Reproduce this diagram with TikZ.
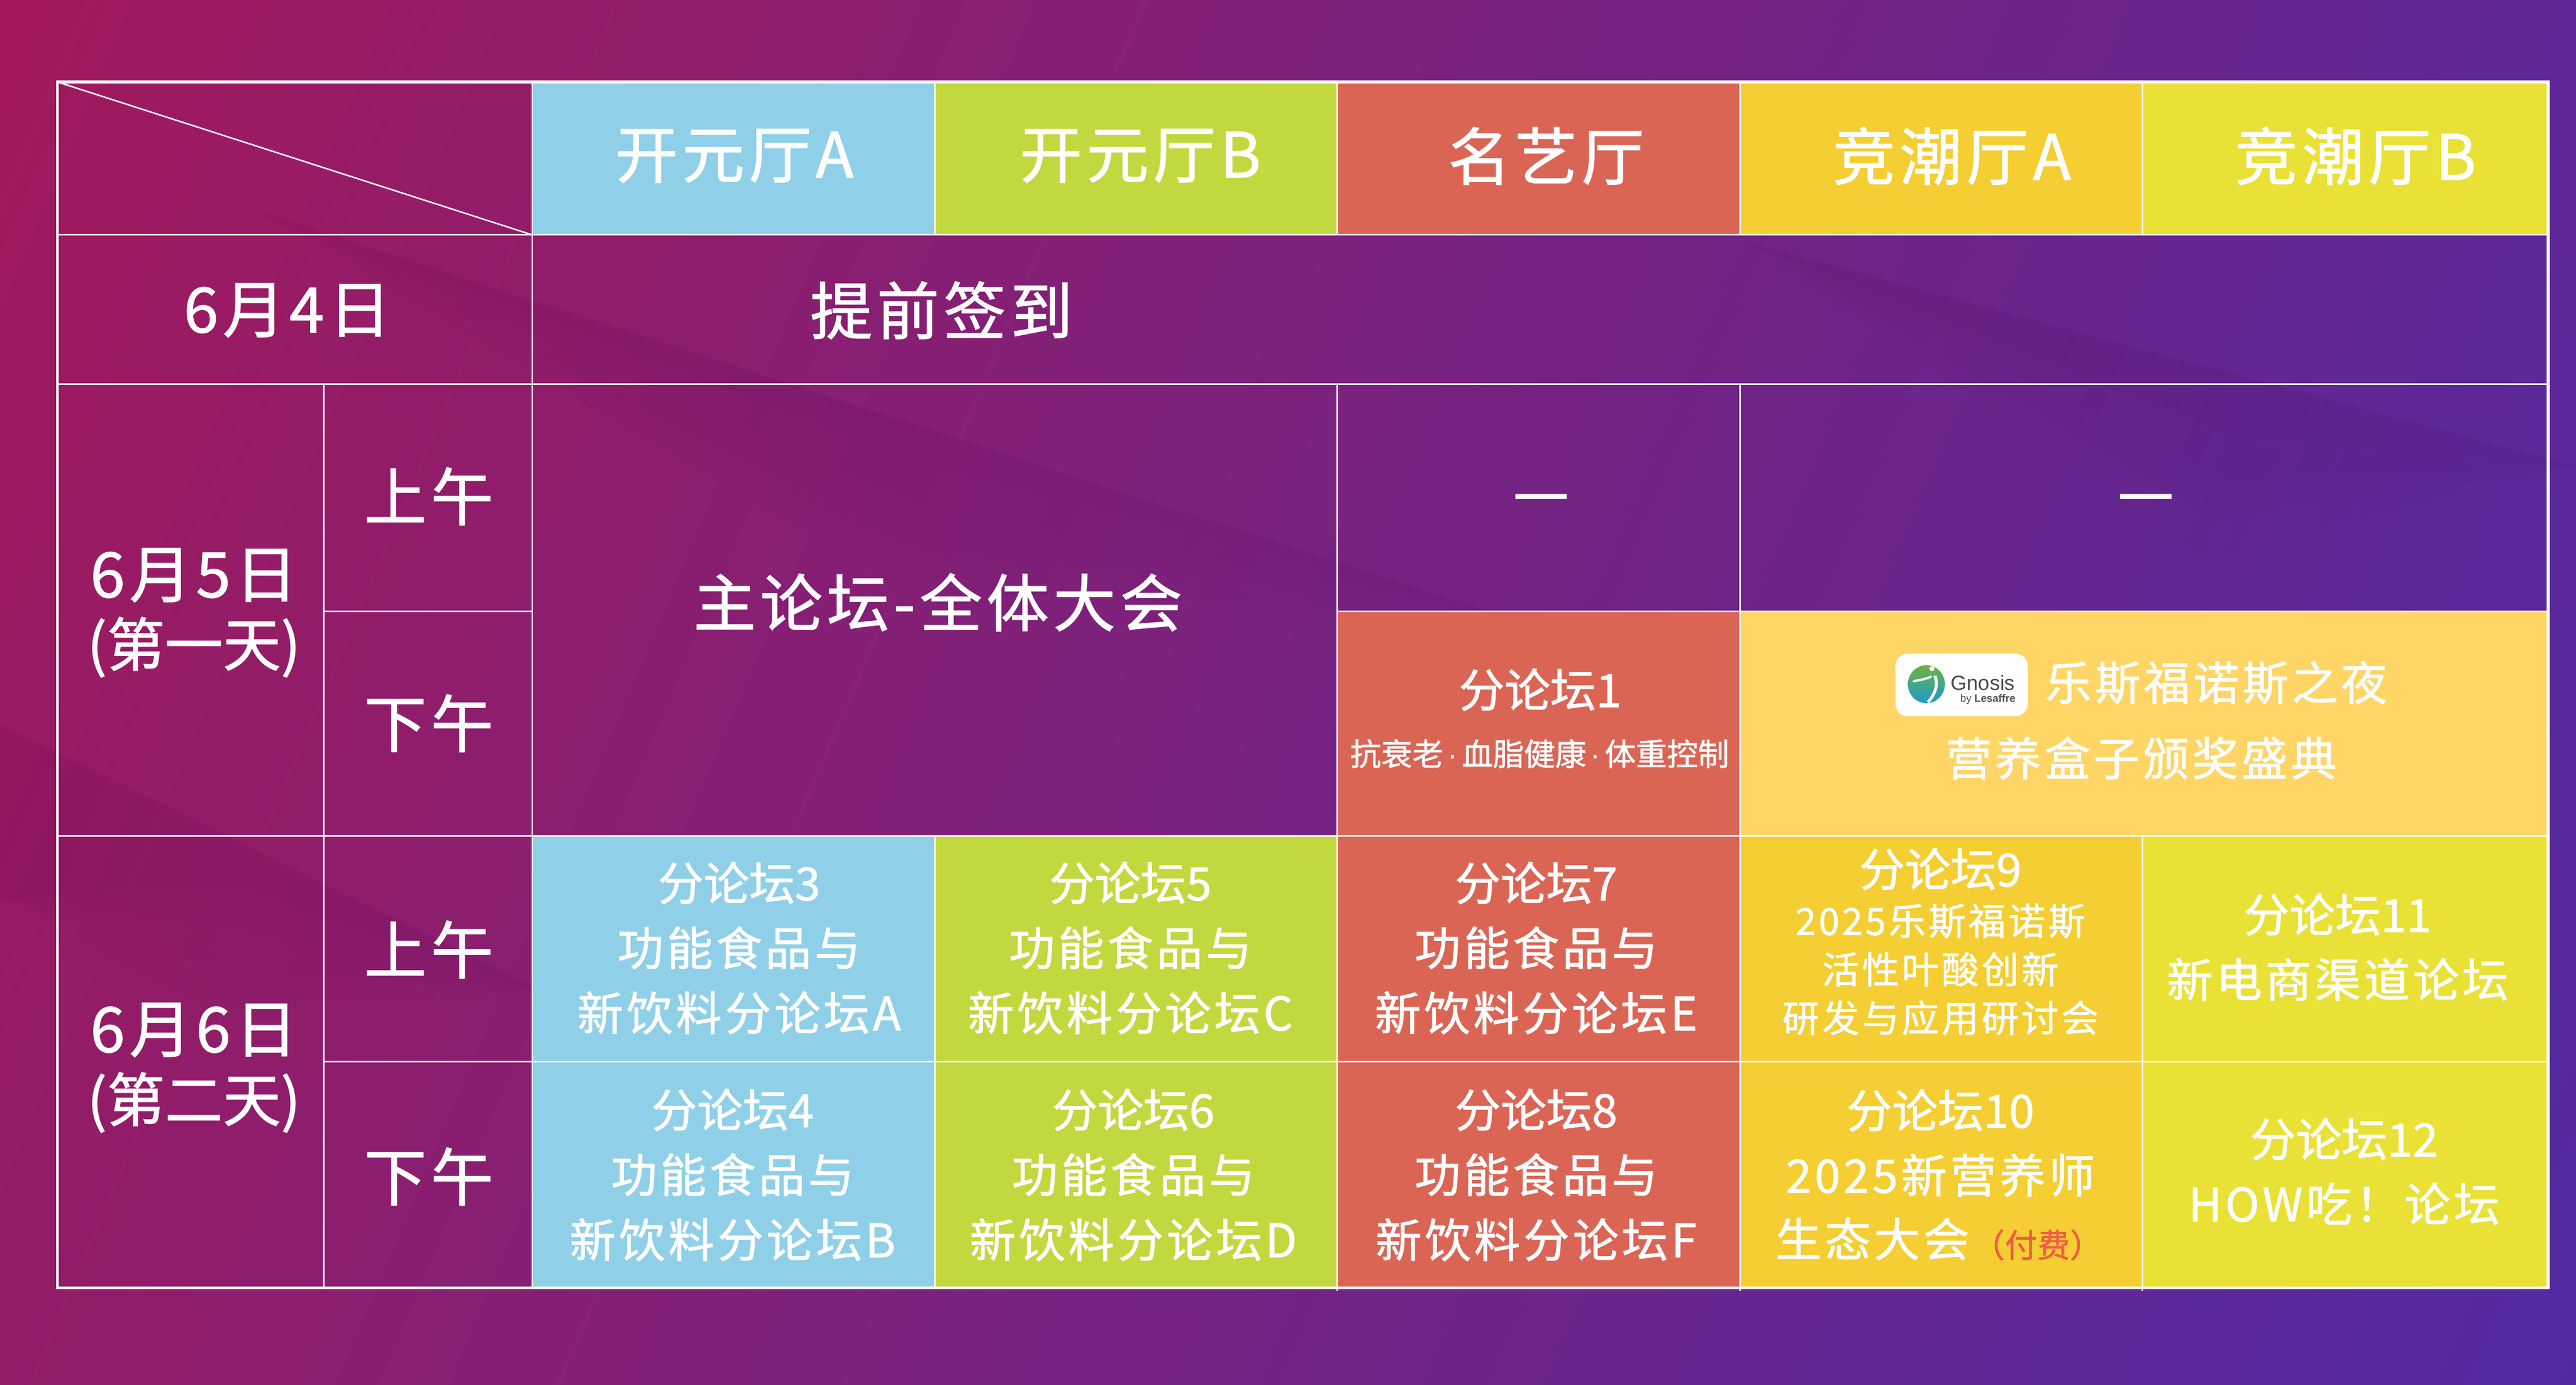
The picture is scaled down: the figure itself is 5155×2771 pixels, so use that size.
\documentclass[tikz,border=0pt]{standalone}
\usepackage{fontspec}
\setmainfont[FakeBold=1.3]{Noto Sans CJK SC}
\newfontfamily\trackfont[LetterSpace=7,FakeBold=1.3]{Noto Sans CJK SC}
\newfontfamily\logofont{Liberation Sans}
\usetikzlibrary{calc}

\definecolor{bgA}{HTML}{A2195B}
\definecolor{bgB}{HTML}{78227F}
\definecolor{bgC}{HTML}{512AA3}
\definecolor{roomblue}{HTML}{8FD0E8}
\definecolor{roomgreen}{HTML}{C2D83F}
\definecolor{roomred}{HTML}{DB6555}
\definecolor{roomorange}{HTML}{F4CE32}
\definecolor{roomyellow}{HTML}{E9E135}
\definecolor{nightgold}{HTML}{FFD566}
\definecolor{feered}{HTML}{F25C45}
\definecolor{logogreen}{HTML}{6DB33F}
\definecolor{logoblue}{HTML}{1E9AD0}

\pgfdeclarehorizontalshading{bgfade}{100bp}{color(0bp)=(bgA); color(17bp)=(bgA); color(50bp)=(bgB); color(83bp)=(bgC); color(100bp)=(bgC)}

% The first line of a forum cell has no tracking
\newcommand{\forumhead}[1]{{\normalfont\fontsize{26}{30}\selectfont #1}}

\tikzset{
	outerline/.style={draw=white, line width=1.7pt},
	gridline/.style={draw=white, line width=0.85pt},
	facet/.style={fill=black, opacity=0.008},
	roomtitle/.style={text=white, font=\trackfont\fontsize{35.5}{42}\selectfont, inner sep=0pt},
	daynote/.style={text=white, font=\fontsize{33}{40}\selectfont, inner sep=0pt},
	forumtext/.style={text=white, align=center, font=\trackfont\fontsize{26.2}{37}\selectfont, inner sep=0pt},
	forumsmall/.style={text=white, align=center, font=\trackfont\fontsize{21.2}{27.6}\selectfont, inner sep=0pt},
}

\begin{document}
\begin{tikzpicture}[x=0.01cm, y=-0.01cm]
	% Background, it also fixes the size of the page
	\shade[shading=bgfade, shading angle=-23] (0,0) rectangle (5155,2771);

	% Faint darker facets of the background
	\foreach \d in {80,160,240,320} {
		\fill[facet] (500,417) -- (3000,1230) -- ($(1900,860)+(-0.3*\d,\d)$) -- cycle;
		\fill[facet] (3498,486) -- (5155,933) -- ($(4500,800)+(-0.3*\d,\d)$) -- cycle;
		\fill[facet] (0,1449) -- (1100,1990) -- ($(500,1700)+(-0.3*\d,\d)$) -- (0,1800) -- cycle;
	}

	% Columns and rows of the table
	\coordinate (X0) at (115,0);
	\coordinate (X1) at (648,0);
	\coordinate (X2) at (1065,0);
	\coordinate (X3) at (1871,0);
	\coordinate (X4) at (2676,0);
	\coordinate (X5) at (3482,0);
	\coordinate (X6) at (4287,0);
	\coordinate (X7) at (5099,0);
	\coordinate (Y0) at (0,164);
	\coordinate (Y1) at (0,470);
	\coordinate (Y2) at (0,769);
	\coordinate (Y3) at (0,1223);
	\coordinate (Y4) at (0,1673);
	\coordinate (Y5) at (0,2124);
	\coordinate (Y6) at (0,2577);

	% Coloured cells go first so that the grid recovers them
	\foreach \ca/\cb/\cc in {X2/X3/roomblue, X3/X4/roomgreen, X4/X5/roomred, X5/X6/roomorange, X6/X7/roomyellow} {
		\fill[\cc] (\ca|-Y0) rectangle (\cb|-Y1);
		\fill[\cc] (\ca|-Y4) rectangle (\cb|-Y6);
	}
	\fill[roomred] (X4|-Y3) rectangle (X5|-Y4);
	\fill[nightgold] (X5|-Y3) rectangle (X7|-Y4);

	% Grid
	\draw[gridline] (X0|-Y1) -- (X7|-Y1);
	\draw[gridline] (X0|-Y2) -- (X7|-Y2);
	\draw[gridline] (X1|-Y3) -- (X2|-Y3);
	\draw[gridline] (X4|-Y3) -- (X7|-Y3);
	\draw[gridline] (X0|-Y4) -- (X7|-Y4);
	\draw[gridline] (X1|-Y5) -- (X7|-Y5);
	\draw[gridline] (X1|-Y2) -- (X1|-Y6);
	\draw[gridline] (X2|-Y0) -- (X2|-Y6);
	\draw[gridline] (X3|-Y0) -- (X3|-Y1);
	\draw[gridline] (X3|-Y4) -- (X3|-Y6);
	\draw[gridline] (X4|-Y0) -- (X4|-Y1);
	\draw[gridline] (X4|-Y2) -- ($(X4|-Y6)+(0,6)$);
	\draw[gridline] (X5|-Y0) -- (X5|-Y1);
	\draw[gridline] (X5|-Y2) -- ($(X5|-Y6)+(0,6)$);
	\draw[gridline] (X6|-Y0) -- (X6|-Y1);
	\draw[gridline] (X6|-Y4) -- ($(X6|-Y6)+(0,6)$);
	\draw[gridline] (X0|-Y0) -- (X2|-Y1);
	\draw[outerline] (X0|-Y0) rectangle (X7|-Y6);

	% Rooms
	\node[roomtitle] (roomA) at (1470,312) {开元厅A};
	\node[roomtitle] (roomB) at (2282,312) {开元厅B};
	\node[roomtitle] (roomC) at (3094,312) {名艺厅};
	\node[roomtitle] (roomD) at (3906,312) {竞潮厅A};
	\node[roomtitle] (roomE) at (4714,312) {竞潮厅B};

	% Days
	\node[roomtitle] (day0) at (575,621) {6月4日};
	\node[roomtitle] (sign) at (1884,621) {提前签到};
	\node[roomtitle] (day1) at (388,1151) {6月5日};
	\node[daynote] (day1n) at (388,1295) {(第一天)};
	\node[roomtitle] (day2) at (388,2061) {6月6日};
	\node[daynote] (day2n) at (388,2206) {(第二天)};
	\node[roomtitle] (am1) at (858,993) {上午};
	\node[roomtitle] (pm1) at (858,1447) {下午};
	\node[roomtitle] (am2) at (858,1900) {上午};
	\node[roomtitle] (pm2) at (858,2354) {下午};

	% First day
	\node[roomtitle] (plenary) at (1877,1205) {主论坛-全体大会};
	\node[daynote, font=\fontsize{36}{40}\selectfont] (dashC) at (3084,1009) {—};
	\node[daynote, font=\fontsize{36}{40}\selectfont] (dashD) at (4294,1009) {—};
	\node[forumtext, font=\fontsize{26}{30}\selectfont] (forum1) at (3082,1380) {分论坛1};
	\node[text=white, inner sep=0pt, font=\fontsize{17.7}{22}\selectfont] (forum1t) at (3081,1508) {抗衰老{\logofont\kern.13em·\kern.13em}血脂健康{\logofont\kern.13em·\kern.13em}体重控制};

	% Gnosis logo and evening
	\fill[white, rounded corners=7pt] (3793,1308) rectangle (4058,1433);
	\shade[top color=logogreen, bottom color=logoblue] (3855,1369) ellipse (37 and 38);
	\draw[white, line width=1.3pt, line cap=round] (3830,1363) .. controls (3845,1360) and (3856,1358) .. (3864,1354);
	\draw[white, line width=1.7pt] (3872,1352) .. controls (3880,1372) and (3870,1392) .. (3858,1405);
	\fill[white] (3866,1338) circle (5);
	\node[text=black!70, inner sep=0pt, font=\logofont\fontsize{11.7}{14}\selectfont] (gnosis) at (3968,1366) {Gnosis};
	\node[text=black!70, inner sep=0pt, font=\logofont\fontsize{6}{7}\selectfont\bfseries] (lesaffre) at (3978,1399) {{\mdseries by} Lesaffre};
	\node[forumtext] (night) at (4435,1366) {乐斯福诺斯之夜};
	\node[forumtext] (award) at (4285,1517) {营养盒子颁奖盛典};

	% Second day, morning
	\node[forumtext] (forum3) at (1479,1897) {\forumhead{分论坛3}\\功能食品与\\新饮料分论坛A};
	\node[forumtext] (forum5) at (2262,1897) {\forumhead{分论坛5}\\功能食品与\\新饮料分论坛C};
	\node[forumtext] (forum7) at (3074,1897) {\forumhead{分论坛7}\\功能食品与\\新饮料分论坛E};
	\node[forumsmall] (forum9) at (3883,1884) {\forumhead{分论坛9}\\2025乐斯福诺斯\\活性叶酸创新\\研发与应用研讨会};
	\node[forumtext] (forum11) at (4678,1895) {\forumhead{分论坛11}\\新电商渠道论坛};

	% Second day, afternoon
	\node[forumtext] (forum4) at (1466,2351) {\forumhead{分论坛4}\\功能食品与\\新饮料分论坛B};
	\node[forumtext] (forum6) at (2268,2351) {\forumhead{分论坛6}\\功能食品与\\新饮料分论坛D};
	\node[forumtext] (forum8) at (3074,2351) {\forumhead{分论坛8}\\功能食品与\\新饮料分论坛F};
	\node[forumtext] (forum10) at (3883,2287) {\forumhead{分论坛10}\\2025新营养师};
	\node[forumtext] (forum10c) at (3747,2479) {生态大会};
	\node[text=feered, inner sep=0pt, font=\fontsize{18.5}{22}\selectfont] (fee) at (4077,2491) {（付费）};
	\node[forumtext] (forum12) at (4691,2344) {\forumhead{分论坛12}\\HOW吃！论坛};
\end{tikzpicture}
\end{document}
